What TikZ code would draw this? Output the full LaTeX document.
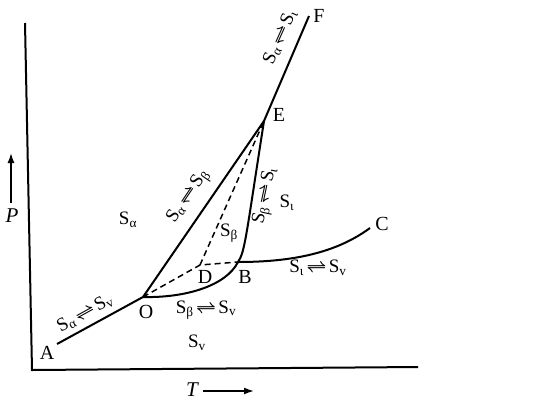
\documentclass[tikz,border=0pt]{standalone}
\usepackage{fontspec}
\setmainfont{Liberation Serif}
\usetikzlibrary{arrows.meta}
\newcommand{\Sph}[1]{S\textsubscript{#1}}
\newcommand{\eqm}{\hspace{2.5pt}{\boldmath$\rightleftharpoons$}\hspace{2.5pt}}
\tikzset{
  curve/.style={line width=2pt},
  meta/.style={line width=1.5pt, dash pattern=on 6pt off 4pt},
  axis/.style={line width=2pt},
  pt/.style={font=\fontsize{20}{22}\selectfont, inner sep=0pt},
  lab/.style={font=\fontsize{19}{21}\selectfont, inner sep=0pt},
  ax/.style={font=\fontsize{21}{23}\selectfont\itshape, inner sep=0pt},
  dirarrow/.style={line width=1.6pt, -{Latex[length=10pt,width=7pt]}}
}
\begin{document}
\begin{tikzpicture}[x=1pt,y=-1pt]
\useasboundingbox[fill=white] (0,0) rectangle (540,400);
% axes
\coordinate (Ytop) at (25,23);
\coordinate (Orig) at (32,370);
\coordinate (Xend) at (418,367);
\draw[axis] (Ytop) -- (Orig) -- (Xend);
% axis labels
\coordinate (Pa) at (11,203);
\coordinate (Pb) at (11,153);
\draw[dirarrow] (Pa) -- (Pb);
\node[ax] (P) at (12,216) {P};
\node[ax] (T) at (192,390) {T};
\coordinate (Ta) at (203,391);
\coordinate (Tb) at (254,391);
\draw[dirarrow] (Ta) -- (Tb);
% points
\coordinate (A) at (57,344);
\coordinate (O) at (143,297);
\coordinate (D) at (200,265);
\coordinate (B) at (238,262);
\coordinate (C) at (370,228);
\coordinate (E) at (264,121);
\coordinate (F) at (309,16);
% curves
\draw[curve] (A) -- (O) -- (E) -- (F);
\draw[curve] (O) .. controls (185,298) and (226,286) .. (B);
\draw[curve] (B) .. controls (245,252) and (246,236) .. (E);
\draw[curve] (B) .. controls (300,262) and (340,250) .. (C);
\draw[meta] (O) -- (D) -- (B);
\draw[meta] (D) -- (E);
% point labels
\node[pt] (lA) at (47,353) {A};
\node[pt] (lO) at (146,312) {O};
\node[pt] (lD) at (205,277) {D};
\node[pt] (lB) at (245,277) {B};
\node[pt] (lC) at (382,224) {C};
\node[pt] (lE) at (279,115) {E};
\node[pt] (lF) at (319,16) {F};
% region labels
\node[lab] (ra) at (128,220) {\Sph{α}};
\node[lab] (rb) at (229,233) {\Sph{β}};
\node[lab] (rl) at (287,203) {\Sph{ι}};
\node[lab] (rv) at (197,343) {\Sph{v}};
% equilibrium labels
\node[lab, rotate=29] (eav) at (85,313) {\Sph{α}\eqm\Sph{v}};
\node[lab] (ebv) at (206,310) {\Sph{β}\eqm\Sph{v}};
\node[lab] (elv) at (318,268) {\Sph{ι}\eqm\Sph{v}};
\node[lab, rotate=56] (eab) at (189,197) {\Sph{α}\eqm\Sph{β}};
\node[lab, rotate=78] (ebl) at (266,196) {\Sph{β}\eqm\Sph{ι}};
\node[lab, rotate=66] (eal) at (280,37) {\Sph{α}\eqm\Sph{ι}};
\end{tikzpicture}
\end{document}
